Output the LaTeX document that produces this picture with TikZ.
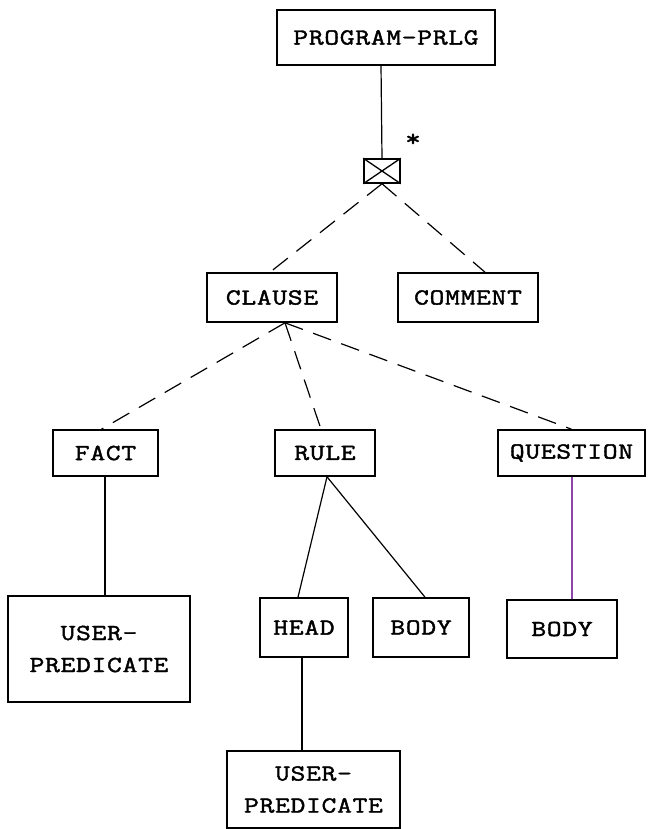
\documentclass[tikz,border=0pt]{standalone}
\usepackage{fontspec}
\newfontfamily\typefont[FakeStretch=1.25, FakeBold=1.8, LetterSpace=3]{Latin Modern Mono}
\usetikzlibrary{calc}
\definecolor{violetline}{RGB}{140,70,170}
\tikzset{
  box/.style={draw, line width=1.6pt, rectangle, inner sep=0pt, align=center,
    font=\typefont\fontsize{23}{32}\selectfont},
  link/.style={line width=1.2pt},
  dlink/.style={line width=1.2pt, dash pattern=on 19pt off 11pt},
}
\begin{document}
\begin{tikzpicture}[x=1pt,y=-1pt]
\useasboundingbox (0,0) rectangle (653,829);
\node[box, minimum width=218, minimum height=55] (prog) at (386,37.5) {PROGRAM-PRLG};
\node[draw, line width=1.5pt, minimum width=36, minimum height=24, inner sep=0] (cross) at (382,171) {};
\draw[line width=1.3pt] (cross.north west) -- (cross.south east) (cross.south west) -- (cross.north east);
\node[font=\typefont\fontsize{24}{24}\selectfont, inner sep=0] (star) at (413,140) {*};
\node[box, minimum width=130, minimum height=49] (clause) at (272,297.5) {CLAUSE};
\node[box, minimum width=140, minimum height=49] (comment) at (468,297.5) {COMMENT};
\node[box, minimum width=105, minimum height=46] (fact) at (105.5,453) {FACT};
\node[box, minimum width=100, minimum height=46] (rule) at (325,453) {RULE};
\node[box, minimum width=147, minimum height=46] (question) at (571.5,453) {QUESTION};
\node[box, minimum width=182, minimum height=106] (up1) at (99,649) {USER-\\PREDICATE};
\node[box, minimum width=88, minimum height=59] (head) at (304,627.5) {HEAD};
\node[box, minimum width=96, minimum height=59] (body1) at (421,627.5) {BODY};
\node[box, minimum width=110, minimum height=58] (body2) at (562,629) {BODY};
\node[box, minimum width=173, minimum height=77] (up2) at (313.5,789.5) {USER-\\PREDICATE};
\coordinate (progb) at (381,65);
\draw[link] (progb) -- (cross.north);
\draw[dlink] (cross.south) -- ($(clause.north)+(-2,0)$);
\draw[dlink] (cross.south) -- ($(comment.north)+(17,0)$);
\coordinate (cls) at ($(clause.south)+(13,0)$);
\draw[dlink] (cls) -- ($(fact.north)+(-4,0)$);
\draw[dlink] (cls) -- ($(rule.north)+(-4,0)$);
\draw[dlink] (cls) -- ($(question.north)+(0,0)$);
\draw[link] ($(fact.south)+(-0.5,0)$) -- ($(up1.north)+(6,0)$);
\draw[link] ($(rule.south)+(2,0)$) -- ($(head.north)+(-6,0)$);
\draw[link] ($(rule.south)+(2,0)$) -- ($(body1.north)+(4,0)$);
\draw[link, violetline] ($(question.south)+(0.5,0)$) -- ($(body2.north)+(10,0)$);
\draw[link] ($(head.south)+(-2,0)$) -- ($(up2.north)+(-11.5,0)$);
\end{tikzpicture}
\end{document}
